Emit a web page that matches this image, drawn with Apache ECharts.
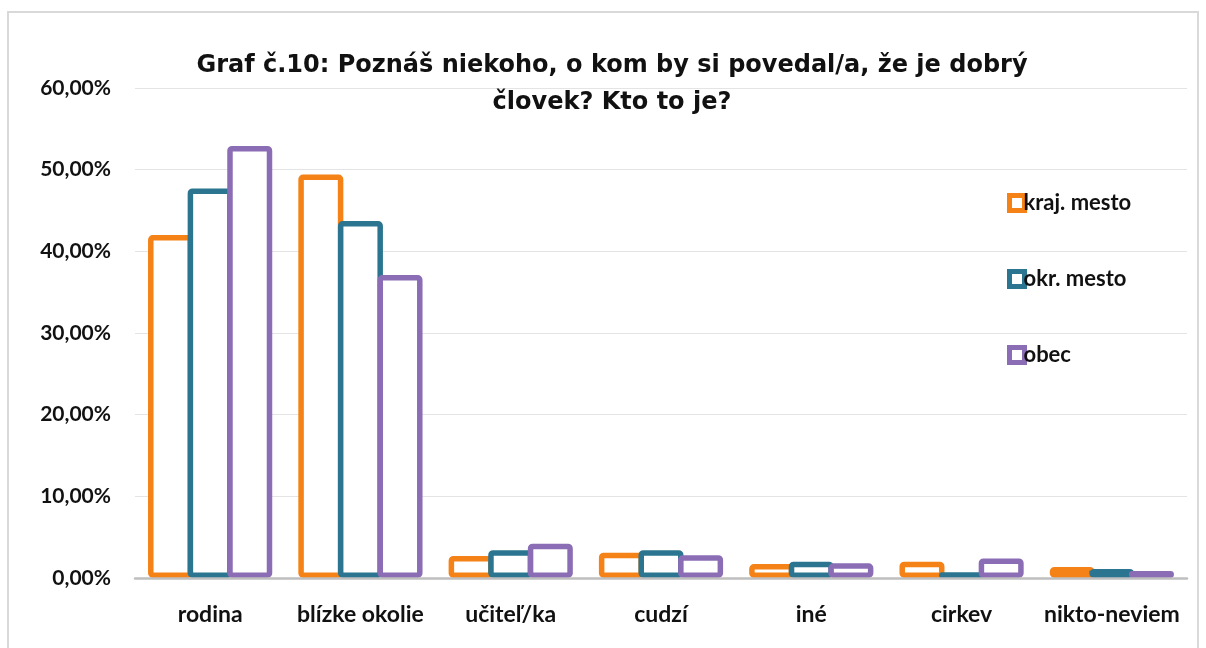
<!DOCTYPE html>
<html>
<head>
<meta charset="utf-8">
<script src="https://cdn.jsdelivr.net/npm/echarts@6/dist/echarts.min.js"></script>
<style>
html,body{margin:0;padding:0;background:#fff;}
#frame{position:absolute;left:7px;top:11px;width:1192px;height:650px;border:2px solid #d9d9d9;box-sizing:border-box;}
#main{position:absolute;left:0;top:0;width:1206px;height:648px;}
</style>
</head>
<body>
<div id="frame"></div>
<div id="main"></div>
<script>
// kategórie a hodnoty (v %)
var categories = ['rodina', 'blízke okolie', 'učiteľ/ka', 'cudzí', 'iné', 'cirkev', 'nikto-neviem'];
var krajMesto = [42.0, 49.4, 2.7, 3.1, 1.7, 2.0, 1.35];
var okrMesto  = [47.7, 43.7, 3.4, 3.4, 2.0, 0.7, 1.1];
var obec      = [52.9, 37.1, 4.2, 2.8, 1.8, 2.4, 0.85];
var seriesNames = ['kraj. mesto', 'okr. mesto', 'obec'];
var colors = ['#f58216', '#2b7590', '#8b6db5'];

var chart = echarts.init(document.getElementById('main'));

var mkSeries = function(i, data){
	return {
		name: seriesNames[i], type: 'bar', data: data,
		barWidth: 45, barGap: '-12%',
		itemStyle: {color: '#fff', borderColor: colors[i], borderWidth: 5.5, borderRadius: 2},
		emphasis: {disabled: true}
	};
};

var option = {
	animation: false,
	title: {
		text: 'Graf č.10: Poznáš niekoho, o kom by si povedal/a, že je dobrý\nčlovek? Kto to je?',
		left: 607, top: 42, textAlign: 'center',
		textStyle: {fontFamily: 'DejaVu Sans', fontWeight: 'bold', fontSize: 24, color: '#111', lineHeight: 37}
	},
	legend: {
		orient: 'vertical', left: 1002, top: 187, itemGap: 54,
		itemWidth: 15, itemHeight: 15, icon: 'rect',
		itemStyle: {borderWidth: 5},
		textStyle: {fontFamily: 'Lato', fontWeight: 'bold', fontSize: 22, color: '#111', padding: [0,0,0,-6]},
		data: seriesNames
	},
	grid: {left: 135, right: 19, top: 88, bottom: 70},
	xAxis: {
		type: 'category', data: categories,
		z: 5,
		axisLine: {lineStyle: {color: '#bfbfbf', width: 2.5}},
		axisTick: {show: false},
		axisLabel: {interval: 0, fontFamily: 'Lato', fontWeight: 'bold', fontSize: 23, color: '#111', margin: 25}
	},
	yAxis: {
		type: 'value', min: 0, max: 60, interval: 10,
		axisLabel: {
			fontFamily: 'Lato', fontWeight: 'bold', fontSize: 21, color: '#111', margin: 24,
			formatter: function(v){ return v.toFixed(2).replace('.', ',') + '%'; }
		},
		splitLine: {lineStyle: {color: '#e4e4e4', width: 1}}
	},
	series: [mkSeries(0, krajMesto), mkSeries(1, okrMesto), mkSeries(2, obec)]
};
chart.setOption(option);
</script>
</body>
</html>
